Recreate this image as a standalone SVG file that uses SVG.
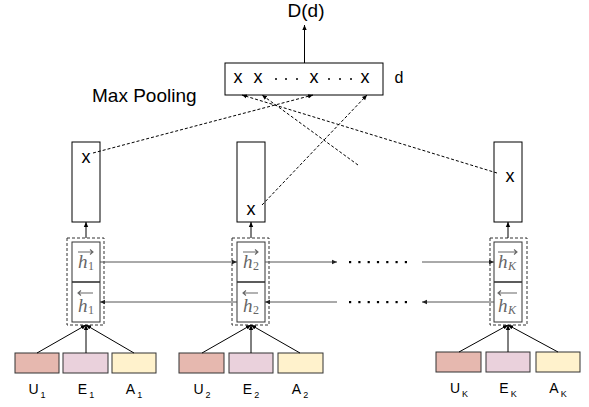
<svg xmlns="http://www.w3.org/2000/svg" width="589" height="407" viewBox="0 0 589 407">
<style>
.box{fill:#fff;stroke:#000;stroke-width:1}
.dbox{fill:none;stroke:#333;stroke-width:1;stroke-dasharray:3,2}
.cell{fill:#fff;stroke:#333;stroke-width:1}
.div{stroke:#333;stroke-width:1.6}
.t{font-family:"Liberation Sans",Arial,sans-serif;fill:#000}
.h{font-family:"Liberation Serif","DejaVu Serif",serif;font-style:italic;fill:#666;font-size:19px}
.hs{font-family:"Liberation Serif","DejaVu Serif",serif;fill:#666;font-size:12px}
.hk{font-family:"Liberation Serif","DejaVu Serif",serif;font-style:italic;fill:#666;font-size:12px}
.vec{stroke:#666;stroke-width:1.1;fill:none}
.c{stroke:#000;stroke-width:1;fill:none}
.g{stroke:#555;stroke-width:1;fill:none}
.d{stroke:#000;stroke-width:1;fill:none;stroke-dasharray:3,2}
.u{fill:#e6b8af;stroke:#333;stroke-width:1}
.e{fill:#ead1dc;stroke:#333;stroke-width:1}
.a{fill:#fff2cc;stroke:#333;stroke-width:1}
.lab{font-family:"Liberation Sans",Arial,sans-serif;font-size:14px;fill:#000}
</style>
<defs>
<marker id="ah" markerWidth="6" markerHeight="6" refX="5" refY="3" orient="auto" markerUnits="userSpaceOnUse">
<path d="M0,0.8 L5,3 L0,5.2 Z" fill="#000"/>
</marker>
<marker id="ahg" markerWidth="6" markerHeight="6" refX="5" refY="3" orient="auto" markerUnits="userSpaceOnUse">
<path d="M0,0.8 L5,3 L0,5.2 Z" fill="#222"/>
</marker>
</defs>

<text class="t" x="306" y="17" font-size="19" text-anchor="middle">D(d)</text>
<text class="t" x="92" y="102" font-size="19">Max Pooling</text>

<g id="maxpool">
<rect class="box" x="225" y="63" width="158" height="32"/>
<text class="t" font-size="18" x="238" y="83" text-anchor="middle">x</text>
<text class="t" font-size="18" x="258" y="83" text-anchor="middle">x</text>
<circle cx="276" cy="79" r="1"/><circle cx="286" cy="79" r="1"/><circle cx="297" cy="79" r="1"/>
<text class="t" font-size="18" x="314" y="83" text-anchor="middle">x</text>
<circle cx="329" cy="79" r="1"/><circle cx="340" cy="79" r="1"/><circle cx="351" cy="79" r="1"/>
<text class="t" font-size="18" x="365" y="83" text-anchor="middle">x</text>
<text class="t" font-size="16" x="399" y="83" text-anchor="middle">d</text>
</g>

<g id="out1"><rect class="box" x="72" y="142" width="28" height="80"/><text class="t" font-size="18" x="86" y="163" text-anchor="middle">x</text></g>
<g id="out2"><rect class="box" x="237" y="142" width="28" height="80"/><text class="t" font-size="18" x="251" y="215" text-anchor="middle">x</text></g>
<g id="outK"><rect class="box" x="494" y="142" width="28" height="80"/><text class="t" font-size="18" x="510" y="182" text-anchor="middle">x</text></g>

<g id="lstm1">
<rect class="dbox" x="67" y="238" width="37" height="87"/>
<rect class="cell" x="72" y="242" width="28" height="80"/>
<line class="div" x1="72" y1="282" x2="100" y2="282"/>
<path class="vec" d="M78,252 H93 M90,249.5 L93,252 L90,254.5"/>
<text class="h" x="78" y="268">h</text><text class="hs" x="88" y="270">1</text>
<path class="vec" d="M78,293 H93 M81,290.5 L78,293 L81,295.5"/>
<text class="h" x="78" y="312">h</text><text class="hs" x="88" y="314">1</text>
</g>
<g id="lstm2">
<rect class="dbox" x="232" y="238" width="37" height="87"/>
<rect class="cell" x="237" y="242" width="28" height="80"/>
<line class="div" x1="237" y1="282" x2="265" y2="282"/>
<path class="vec" d="M243,252 H258 M255,249.5 L258,252 L255,254.5"/>
<text class="h" x="243" y="268">h</text><text class="hs" x="253" y="270">2</text>
<path class="vec" d="M243,293 H258 M246,290.5 L243,293 L246,295.5"/>
<text class="h" x="243" y="312">h</text><text class="hs" x="253" y="314">2</text>
</g>
<g id="lstmK">
<rect class="dbox" x="490" y="238" width="37" height="87"/>
<rect class="cell" x="494" y="242" width="28" height="80"/>
<line class="div" x1="494" y1="282" x2="522" y2="282"/>
<path class="vec" d="M498,252 H517 M514,249.5 L517,252 L514,254.5"/>
<text class="h" x="498" y="268">h</text><text class="hk" x="508" y="270">K</text>
<path class="vec" d="M498,293 H517 M501,290.5 L498,293 L501,295.5"/>
<text class="h" x="498" y="312">h</text><text class="hk" x="508" y="314">K</text>
</g>

<g id="inputs1">
<rect class="u" x="15" y="353" width="44" height="20"/>
<rect class="e" x="63" y="353" width="45" height="20"/>
<rect class="a" x="112" y="353" width="44" height="20"/>
<text class="lab" x="37" y="394" text-anchor="middle">U<tspan dx="2" dy="4" font-size="9">1</tspan></text>
<text class="lab" x="86" y="394" text-anchor="middle">E<tspan dx="2" dy="4" font-size="9">1</tspan></text>
<text class="lab" x="134" y="394" text-anchor="middle">A<tspan dx="2" dy="4" font-size="9">1</tspan></text>
</g>
<g id="inputs2">
<rect class="u" x="179" y="353" width="45" height="20"/>
<rect class="e" x="229" y="353" width="44" height="20"/>
<rect class="a" x="278" y="353" width="45" height="20"/>
<text class="lab" x="202" y="394" text-anchor="middle">U<tspan dx="2" dy="4" font-size="9">2</tspan></text>
<text class="lab" x="251" y="394" text-anchor="middle">E<tspan dx="2" dy="4" font-size="9">2</tspan></text>
<text class="lab" x="300" y="394" text-anchor="middle">A<tspan dx="2" dy="4" font-size="9">2</tspan></text>
</g>
<g id="inputsK">
<rect class="u" x="436" y="352" width="45" height="20"/>
<rect class="e" x="486" y="352" width="44" height="20"/>
<rect class="a" x="536" y="352" width="44" height="20"/>
<text class="lab" x="459" y="393" text-anchor="middle">U<tspan dx="2" dy="4" font-size="9">K</tspan></text>
<text class="lab" x="508" y="393" text-anchor="middle">E<tspan dx="2" dy="4" font-size="9">K</tspan></text>
<text class="lab" x="558" y="393" text-anchor="middle">A<tspan dx="2" dy="4" font-size="9">K</tspan></text>
</g>

<g id="connectors">
<line class="c" x1="304.5" y1="63" x2="304.5" y2="25" marker-end="url(#ah)"/>
<line class="c" x1="86" y1="238" x2="86" y2="222" marker-end="url(#ah)"/>
<line class="c" x1="251" y1="238" x2="251" y2="222" marker-end="url(#ah)"/>
<line class="c" x1="508" y1="238" x2="508" y2="222" marker-end="url(#ah)"/>
<line class="d" x1="93" y1="153" x2="313" y2="95" marker-end="url(#ah)"/>
<line class="d" x1="262" y1="205" x2="367" y2="95" marker-end="url(#ah)"/>
<line class="d" x1="497" y1="173" x2="242" y2="95" marker-end="url(#ah)"/>
<line class="d" x1="358" y1="165" x2="262" y2="95" marker-end="url(#ah)"/>
<line class="g" x1="100" y1="262" x2="237" y2="262" marker-end="url(#ahg)"/>
<line class="g" x1="265" y1="262" x2="337" y2="262" marker-end="url(#ahg)"/>
<line class="g" x1="422" y1="262" x2="494" y2="262" marker-end="url(#ahg)"/>
<line class="g" x1="494" y1="302" x2="422" y2="302" marker-end="url(#ahg)"/>
<line class="g" x1="337" y1="302" x2="265" y2="302" marker-end="url(#ahg)"/>
<line class="g" x1="237" y1="302" x2="100" y2="302" marker-end="url(#ahg)"/>
<g fill="#000">
<rect x="349" y="261" width="2.2" height="2.2"/><rect x="358.3" y="261" width="2.2" height="2.2"/><rect x="367.6" y="261" width="2.2" height="2.2"/><rect x="376.9" y="261" width="2.2" height="2.2"/><rect x="386.2" y="261" width="2.2" height="2.2"/><rect x="395.5" y="261" width="2.2" height="2.2"/><rect x="404.8" y="261" width="2.2" height="2.2"/>
<rect x="349" y="301" width="2.2" height="2.2"/><rect x="358.3" y="301" width="2.2" height="2.2"/><rect x="367.6" y="301" width="2.2" height="2.2"/><rect x="376.9" y="301" width="2.2" height="2.2"/><rect x="386.2" y="301" width="2.2" height="2.2"/><rect x="395.5" y="301" width="2.2" height="2.2"/><rect x="404.8" y="301" width="2.2" height="2.2"/>
</g>
<line class="c" x1="37" y1="353" x2="86" y2="325" marker-end="url(#ah)"/>
<line class="c" x1="86" y1="353" x2="86" y2="325" marker-end="url(#ah)"/>
<line class="c" x1="134" y1="353" x2="86" y2="325" marker-end="url(#ah)"/>
<line class="c" x1="202" y1="353" x2="251" y2="325" marker-end="url(#ah)"/>
<line class="c" x1="251" y1="353" x2="251" y2="325" marker-end="url(#ah)"/>
<line class="c" x1="300" y1="353" x2="251" y2="325" marker-end="url(#ah)"/>
<line class="c" x1="459" y1="352" x2="508" y2="325" marker-end="url(#ah)"/>
<line class="c" x1="508" y1="352" x2="508" y2="325" marker-end="url(#ah)"/>
<line class="c" x1="558" y1="352" x2="508" y2="325" marker-end="url(#ah)"/>
</g>
</svg>
